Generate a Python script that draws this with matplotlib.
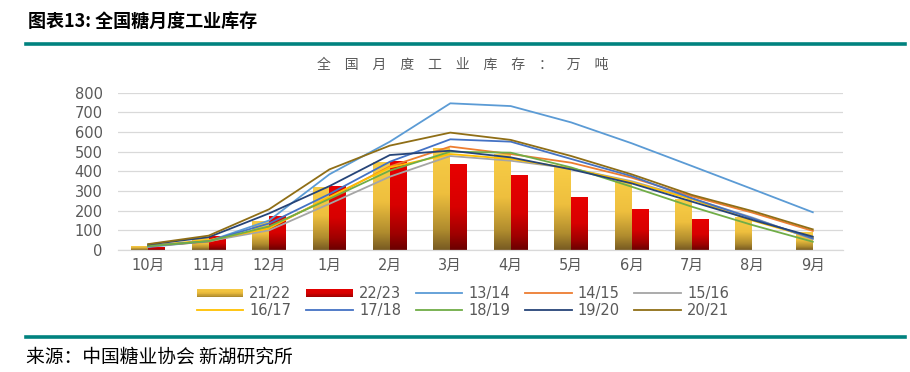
import numpy as np
import matplotlib
matplotlib.use("Agg")
import matplotlib.pyplot as plt
from matplotlib.colors import LinearSegmentedColormap
from matplotlib.patches import Patch, Rectangle
from matplotlib.lines import Line2D
from matplotlib.legend_handler import HandlerBase

plt.rcParams['font.family'] = ['DejaVu Sans', 'Noto Sans CJK SC']

# ---------------- data ----------------
months = ['10月', '11月', '12月', '1月', '2月', '3月', '4月', '5月', '6月', '7月', '8月', '9月']

bar_2122 = [22, 60, 150, 320, 447, 521, 488, 420, 352, 258, 166, 90]
bar_2223 = [17, 70, 174, 327, 455, 435, 379, 272, 207, 160, np.nan, np.nan]

s1314 = [15, 45, 150, 385, 551, 746, 732, 649, 543, 427, 310, 192]
s1415 = [20, 42, 115, 265, 425, 526, 488, 444, 368, 273, 190, 97]
s1516 = [18, 45, 100, 235, 373, 478, 454, 415, 350, 262, 165, 55]
s1617 = [22, 50, 110, 270, 420, 488, 463, 415, 345, 258, 150, 62]
s1718 = [20, 45, 135, 285, 449, 563, 551, 463, 376, 263, 161, 59]
s1819 = [20, 45, 120, 260, 404, 500, 495, 420, 322, 220, 127, 42]
s1920 = [28, 65, 186, 325, 483, 505, 471, 410, 339, 246, 153, 68]
s2021 = [30, 73, 207, 410, 531, 597, 560, 478, 385, 280, 198, 105]

line_labels = ['13/14', '14/15', '15/16', '16/17', '17/18', '18/19', '19/20', '20/21']
line_values = [s1314, s1415, s1516, s1617, s1718, s1819, s1920, s2021]
line_colors = ['#5B9BD5', '#ED7D31', '#A5A5A5', '#FFC000', '#4472C4', '#70AD47', '#264478', '#8F6E16']
bar_labels = ['21/22', '22/23']

yticks = [0, 100, 200, 300, 400, 500, 600, 700, 800]

# ---------------- figure ----------------
W, H = 910, 372
fig = plt.figure(figsize=(W / 100, H / 100), dpi=100)
ax = fig.add_axes([118 / W, 1 - 250 / H, 725 / W, (250 - 92.7) / H])

gold_cmap = LinearSegmentedColormap.from_list(
    'gold', [(0, '#F8CD46'), (0.45, '#EEBF3E'), (0.8, '#B08C2E'), (1, '#775A22')])
red_cmap = LinearSegmentedColormap.from_list(
    'red', [(0, '#E80000'), (0.5, '#D80000'), (0.82, '#9E0000'), (1, '#6A0000')])

x = np.arange(len(months))
bw = 0.28
bars1 = ax.bar(x - bw / 2, bar_2122, width=bw, facecolor='none', edgecolor='none', zorder=2)
bars2 = ax.bar(x + bw / 2, bar_2223, width=bw, facecolor='none', edgecolor='none', zorder=2)

grad = np.linspace(0, 1, 256).reshape(-1, 1)
for bars, cmap in ((bars1, gold_cmap), (bars2, red_cmap)):
    for r in bars:
        h = r.get_height()
        if not np.isfinite(h) or h <= 0:
            continue
        x0, w = r.get_x(), r.get_width()
        im = ax.imshow(grad, extent=[x0, x0 + w, 0, h], aspect='auto', cmap=cmap,
                       vmin=0, vmax=1, origin='upper', zorder=2, interpolation='bilinear')
        im.set_clip_path(r)

line_handles = []
for vals, c, lab in zip(line_values, line_colors, line_labels):
    ln, = ax.plot(x, vals, color=c, lw=1.3, zorder=3, label=lab)
    line_handles.append(ln)

ax.set_xlim(-0.5, len(months) - 0.5)
ax.set_ylim(0, 800)
ax.set_yticks(yticks)
ax.set_yticklabels([str(v) for v in yticks])
ax.set_xticks(x)
ax.set_xticklabels(months)
ax.grid(axis='y', color='#D9D9D9', lw=0.9, zorder=0)
ax.set_axisbelow(True)
for s in ['top', 'right', 'left']:
    ax.spines[s].set_visible(False)
ax.spines['bottom'].set_color('#D9D9D9')
ax.spines['bottom'].set_linewidth(0.9)
ax.tick_params(axis='both', length=0, colors='#595959', labelsize=10.5)
ax.tick_params(axis='y', pad=11)
ax.tick_params(axis='x', pad=6)


# ---------------- legend ----------------
class GradHandler(HandlerBase):
    def __init__(self, cmap):
        super().__init__()
        self.cmap = cmap

    def create_artists(self, legend, orig_handle, xdescent, ydescent, width, height, fontsize, trans):
        n = 12
        hh = height * 0.75
        y0 = -ydescent + (height - hh) / 2
        arts = []
        for k in range(n):
            col = self.cmap(1 - k / (n - 1) * 0.6 - 0.2)
            arts.append(Rectangle((-xdescent, y0 + k * hh / n), width, hh / n + 0.05,
                                  facecolor=col, edgecolor='none', transform=trans))
        return arts


p1 = Patch(label='21/22')
p2 = Patch(label='22/23')
all_handles = [p1, p2] + line_handles
all_labels = bar_labels + line_labels
order = [0, 5, 1, 6, 2, 7, 3, 8, 4, 9]
leg = fig.legend([all_handles[i] for i in order], [all_labels[i] for i in order],
                 ncol=5, loc='center', bbox_to_anchor=(463 / W, 1 - 302 / H),
                 frameon=False, fontsize=10.5, handlelength=3.2, handletextpad=0.42,
                 columnspacing=1.0, labelspacing=0.12, borderpad=0,
                 handler_map={p1: GradHandler(gold_cmap), p2: GradHandler(red_cmap)})
for t in leg.get_texts():
    t.set_color('#595959')

# ---------------- titles / decorations ----------------
fig.text(28 / W, 1 - 21 / H, '图表13: 全国糖月度工业库存', fontsize=13, fontweight='bold',
         family=['Noto Sans CJK SC'], ha='left', va='center', color='black')
fig.add_artist(Line2D([26 / W, 905 / W], [1 - 44 / H] * 2, lw=2.6, color='#00827F'))
fig.text(463 / W, 1 - 65 / H, '\u3000'.join('全国月度工业库存：万吨'), fontsize=10,
         family=['Noto Sans CJK SC'], ha='center', va='center', color='#595959')
fig.add_artist(Line2D([26 / W, 905 / W], [1 - 337 / H] * 2, lw=2.6, color='#00827F'))
fig.text(26 / W, 1 - 357 / H, '来源：中国糖业协会 新湖研究所', fontsize=13.5,
         family=['Noto Sans CJK SC'], ha='left', va='center', color='black')

fig.savefig('out.png', dpi=100)
